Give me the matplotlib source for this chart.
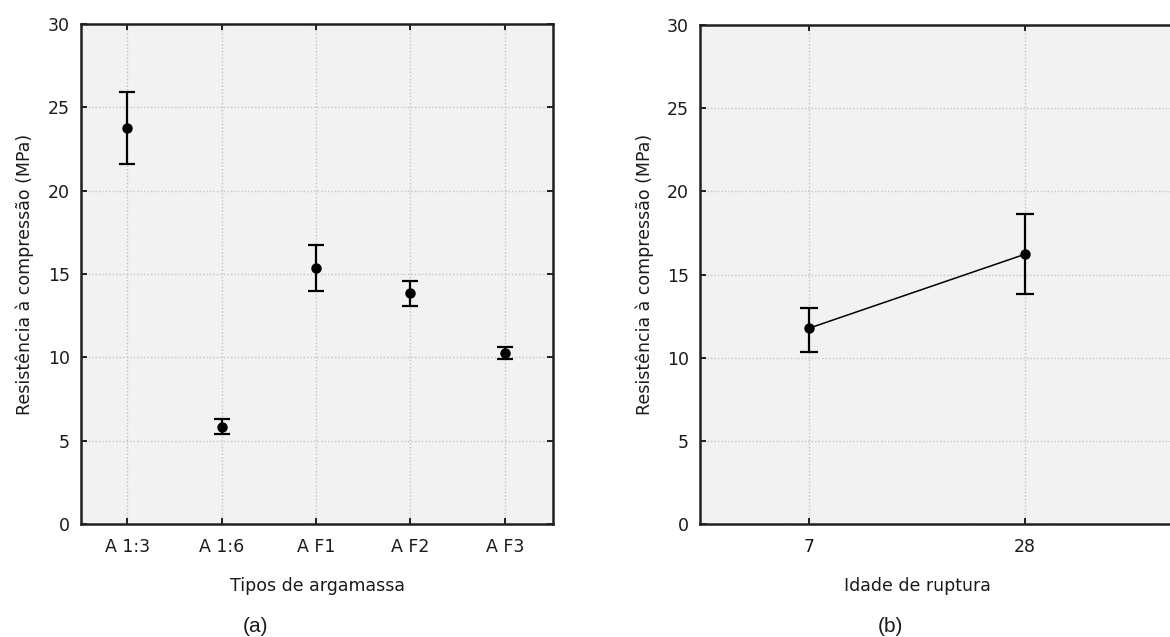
import matplotlib
matplotlib.use("Agg")
import matplotlib.pyplot as plt

plt.rcParams['font.family'] = ['DejaVu Sans']

# (a) compressive strength by mortar type: mean and interval limits (MPa)
tipos = ["A 1:3", "A 1:6", "A F1", "A F2", "A F3"]
media_a = [23.75, 5.82, 15.38, 13.84, 10.25]
inf_a = [21.58, 5.38, 13.98, 13.06, 9.88]
sup_a = [25.92, 6.28, 16.75, 14.60, 10.60]

# (b) compressive strength by age at rupture (days)
idades = ["7", "28"]
media_b = [11.78, 16.22]
inf_b = [10.33, 13.82]
sup_b = [12.98, 18.64]

yticks = [0, 5, 10, 15, 20, 25, 30]
ylabel = "Resistência à compressão (MPa)"

W, H = 1170, 637
fig = plt.figure(figsize=(W / 100, H / 100), dpi=100)
fig.patch.set_facecolor("white")

txt = "#1a1a1a"
fs = 12.5


def style(ax):
    ax.set_facecolor("#f2f2f2")
    ax.set_ylim(0, 30)
    ax.set_yticks(yticks)
    ax.grid(True, color="#c4c4c4", linestyle=(0, (1, 1.5)), linewidth=1.0)
    ax.set_axisbelow(True)
    for s in ax.spines.values():
        s.set_linewidth(1.8)
        s.set_color("#202020")
    ax.tick_params(direction="in", length=4, width=1.4, colors="#202020",
                   labelcolor=txt, labelsize=fs, top=True, right=True)
    ax.tick_params(axis="y", pad=8)
    ax.tick_params(axis="x", pad=10)
    ax.set_ylabel(ylabel, fontsize=fs, color=txt)


# ---- (a)
ax1 = fig.add_axes([81 / W, (H - 524) / H, (553 - 81) / W, 500 / H])
style(ax1)
xa = list(range(len(tipos)))
err_a = [[m - lo for m, lo in zip(media_a, inf_a)],
         [hi - m for m, hi in zip(media_a, sup_a)]]
ax1.errorbar(xa, media_a, yerr=err_a, fmt="o", color="black", ms=6.5,
             capsize=5.5, capthick=1.6, elinewidth=1.6, zorder=3)
ax1.set_xlim(-0.49, 4.51)
ax1.set_xticks(xa)
ax1.set_xticklabels(tipos)
ax1.set_xlabel("Tipos de argamassa", fontsize=fs, color=txt)
ax1.xaxis.set_label_coords((318 - 81) / (553 - 81), -0.106)
ax1.yaxis.set_label_coords(-(81 - 34) / (553 - 81), 0.5)
fig.text(255 / W, 1 - 627 / H, "(a)", ha="center", va="center",
         fontsize=15, color=txt, family="Liberation Sans")

# ---- (b)
ax2 = fig.add_axes([700 / W, (H - 524.3) / H, (1180 - 700) / W, 499.3 / H])
style(ax2)
xb = list(range(len(idades)))
err_b = [[m - lo for m, lo in zip(media_b, inf_b)],
         [hi - m for m, hi in zip(media_b, sup_b)]]
ax2.errorbar(xb, media_b, yerr=err_b, fmt="o-", color="black", ms=6.5,
             lw=1.1, capsize=6.8, capthick=1.6, elinewidth=1.6, zorder=3)
ax2.set_xlim(-0.505, 1.72)
ax2.set_xticks(xb)
ax2.set_xticklabels(idades)
ax2.set_xlabel("Idade de ruptura", fontsize=fs, color=txt)
ax2.xaxis.set_label_coords((917 - 700) / (1180 - 700), -0.106)
ax2.yaxis.set_label_coords(-(700 - 654) / (1180 - 700), 0.5)
fig.text(890 / W, 1 - 627 / H, "(b)", ha="center", va="center",
         fontsize=15, color=txt, family="Liberation Sans")

fig.savefig("out.png", dpi=100)
